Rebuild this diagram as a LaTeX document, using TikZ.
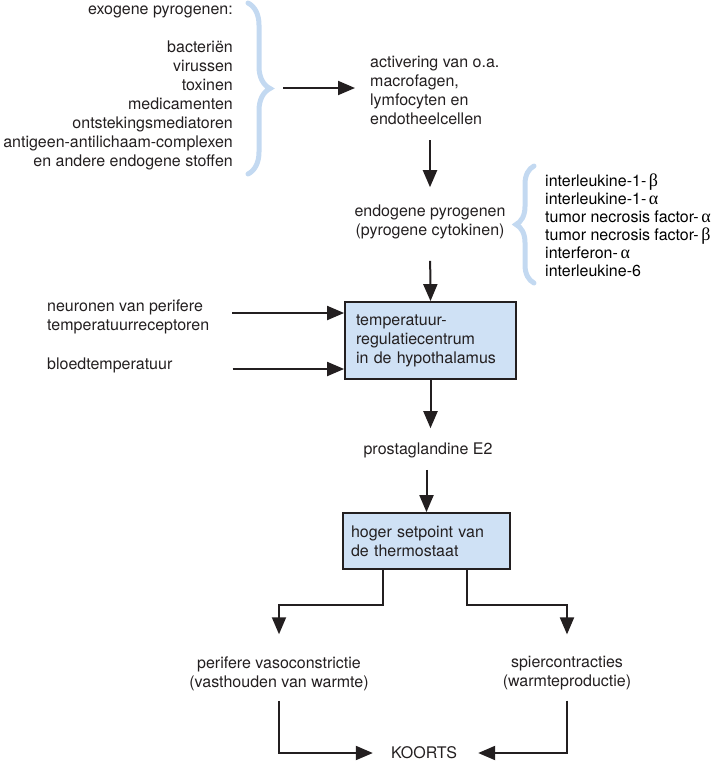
\documentclass[tikz,border=0pt]{standalone}
\usepackage{fontspec}
\setmainfont{TeX Gyre Heros}
\newfontfamily\grk{Liberation Serif}
\usepackage{tikz}
\usetikzlibrary{arrows.meta, decorations.pathreplacing, calc}
\definecolor{ink}{RGB}{35,31,32}
\definecolor{boxblue}{RGB}{207,225,245}
\definecolor{braceblue}{RGB}{195,217,241}
\tikzset{
	plaintext/.style={font=\fontsize{16}{19}\selectfont\color{ink}, inner sep=0pt}
}
\tikzset{
	bluebox/.style={plaintext, draw=ink, line width=1.8pt, fill=boxblue, align=left}
}
\tikzset{
	flowarrow/.style={draw=ink, line width=2pt, -{Triangle[length=17pt,width=14pt]}},
	bluebrace/.style={draw=braceblue, line width=5pt, line cap=round,
		decorate, decoration={brace, amplitude=#1}}
}
\newcommand{\grb}{\,{\grk\fontsize{18}{18}\selectfont β}}
\newcommand{\gra}{\,{\grk\fontsize{18}{18}\selectfont α}}

\begin{document}
\begin{tikzpicture}[x=1pt, y=-1pt]
      \useasboundingbox (0,0) rectangle (715,761);
      \node[plaintext, align=right, anchor=east] (exo) at (233,88)
        {exogene pyrogenen:\\[19pt]bacteriën\\virussen\\toxinen\\medicamenten\\ontstekingsmediatoren\\antigeen-antilichaam-complexen\\en andere endogene stoffen};
      \draw[bluebrace=22pt] (248,3) -- (248,174);
      \node[plaintext, align=left, anchor=west] (act) at (370,90)
        {activering van o.a.\\macrofagen,\\lymfocyten en\\endotheelcellen};
      \draw[flowarrow, shorten <=50pt, shorten >=15pt] (exo.east) -- (exo.east -| act.west);
      \node[plaintext, align=center] (endo) at (430,221.5) {endogene pyrogenen\\(pyrogene cytokinen)};
      \draw[flowarrow, shorten <=16pt, shorten >=17pt] (endo.north |- act.south) -- (endo.north);
      % cytokine list, brace pointing back at the text on the left
      \node[plaintext, align=left, anchor=west, font=\fontsize{16}{18}\selectfont] (cyto) at (545,225)
        {interleukine-1-\grb\\interleukine-1-\gra\\tumor necrosis factor-\gra\\tumor necrosis factor-\grb\\interferon-\gra\\interleukine-6};
      \draw[bluebrace=18pt] (534,283) -- (534,166);
      \node[bluebox, minimum width=171pt, minimum height=77pt, text width=149pt] (temp) at (430.5,340.5)
        {temperatuur-\\regulatiecentrum\\in de hypothalamus};
      \draw[flowarrow, shorten <=22pt] (endo.south) -- (temp.north);
      \node[plaintext, align=left, anchor=west] (neur) at (47,317) {neuronen van perifere\\temperatuurreceptoren};
      \node[plaintext, anchor=west] (bloed) at (47,365) {bloedtemperatuur};
      \draw[flowarrow, shorten <=23pt] ([yshift=4pt]neur.east) -- ([yshift=4pt]neur.east -| temp.west);
      \draw[flowarrow, shorten <=60pt] ([yshift=-4pt]bloed.east) -- ([yshift=-4pt]bloed.east -| temp.west);
      \node[plaintext] (prost) at (428,450) {prostaglandine E2};
      \draw[flowarrow, shorten >=14pt] (temp.south) -- (temp.south |- prost.north);
      \node[bluebox, minimum width=167pt, minimum height=56pt, text width=151pt] (hoger) at (426.5,541)
        {hoger setpoint van\\de thermostaat};
      \draw[flowarrow, shorten <=12pt] (hoger.north |- prost.south) -- (hoger.north);
      \node[plaintext, align=center] (vaso) at (279,673.5) {perifere vasoconstrictie\\(vasthouden van warmte)};
      \node[plaintext, align=center] (spier) at (567,673.5) {spiercontracties\\(warmteproductie)};
      \draw[flowarrow, shorten >=22pt] ([xshift=-43.5pt]hoger.south) -- ++(0,35) -| (vaso.north);
      \draw[flowarrow, shorten >=22pt] ([xshift=40.5pt]hoger.south) -- ++(0,35) -| (spier.north);
      \node[plaintext] (koorts) at (424,753) {KOORTS};
      \draw[flowarrow, shorten <=10pt, shorten >=18pt] (vaso.south) |- (koorts.west);
      \draw[flowarrow, shorten <=10pt, shorten >=21pt] (spier.south) |- (koorts.east);
    \end{tikzpicture}
\end{document}
